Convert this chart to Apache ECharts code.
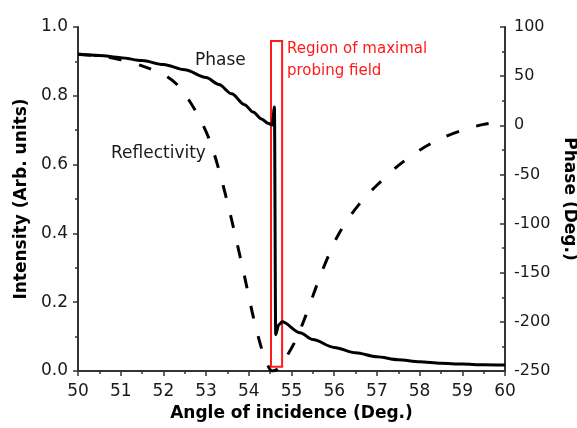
<!DOCTYPE html>
<html>
<head>
<meta charset="utf-8">
<script src="https://cdn.jsdelivr.net/npm/echarts@6/dist/echarts.min.js"></script>
<style>
  html, body { margin: 0; padding: 0; background: #fff; }
  #chart { width: 577px; height: 428px; }
</style>
</head>
<body>
<div id="chart"></div>
<script>
// Reflectivity (left axis, arbitrary units) versus angle of incidence
const reflAngles = [50, 50.5, 51, 51.5, 52, 52.3, 52.6, 52.9, 53.1, 53.3, 53.5, 53.7, 53.9, 54.1, 54.3, 54.45, 54.55, 54.7, 54.9, 55.1, 55.3, 55.5, 55.7, 55.9, 56.1, 56.4, 56.7, 57, 57.5, 58, 58.5, 59, 59.5, 60];
const reflValues = [0.92, 0.916, 0.905, 0.887, 0.862, 0.835, 0.787, 0.722, 0.665, 0.585, 0.49, 0.385, 0.275, 0.16, 0.065, 0.015, 0.0, 0.008, 0.045, 0.09, 0.15, 0.218, 0.285, 0.345, 0.397, 0.455, 0.502, 0.54, 0.597, 0.642, 0.676, 0.70, 0.717, 0.727];

// Phase (right axis, degrees) versus angle of incidence
const phaseAngles = [50, 50.5, 51, 51.5, 52, 52.5, 53, 53.3, 53.6, 53.9, 54.1, 54.3, 54.45, 54.55, 54.6, 54.63, 54.7, 54.78, 55.2, 55.5, 56, 56.5, 57, 57.5, 58, 58.5, 59, 59.5, 60];
const phaseValues = [72.5, 71, 68.8, 65.8, 61.8, 56.5, 48.5, 41.5, 32, 21, 13.5, 6.5, 2, 0.3, 18.6, -213, -203, -200, -211, -218, -226, -231.5, -235.5, -238.5, -240.5, -242, -243, -243.7, -244];

// Highlighted angular window ("Region of maximal probing field")
const regionAngles = [54.52, 54.78];
const regionIntensity = [0.012, 0.959];

// Axis tick settings
const angleTicks = { min: 50, max: 60, step: 1 };
const intensityTicks = { min: 0, max: 1, step: 0.2 };
const phaseTicks = { min: -250, max: 100, step: 50 };

const FONT = 'DejaVu Sans';
const INK = '#1a1a1a';
const AXIS = '#333';
const RED = '#ff1a1a';

const zip = (xs, ys) => xs.map((x, i) => [x, ys[i]]);

const chart = echarts.init(document.getElementById('chart'), null, { renderer: 'canvas' });

chart.setOption({
  animation: false,
  backgroundColor: '#fff',
  grid: { left: 78, right: 72, top: 27, bottom: 57, containLabel: false, outerBoundsMode: 'none' },
  xAxis: {
    type: 'value',
    min: angleTicks.min, max: angleTicks.max, interval: angleTicks.step,
    name: 'Angle of incidence (Deg.)',
    nameLocation: 'middle', nameGap: 34,
    nameTextStyle: { fontFamily: FONT, fontSize: 17, fontWeight: 'bold', color: '#000' },
    axisLine: { show: true, onZero: false, lineStyle: { color: AXIS, width: 2 } },
    axisTick: { show: true, inside: false, length: 5, lineStyle: { color: AXIS, width: 1.5 } },
    minorTick: { show: true, splitNumber: 2, length: 3, lineStyle: { color: AXIS, width: 1.5 } },
    axisLabel: { fontFamily: FONT, fontSize: 17, color: INK, margin: 12, showMinLabel: true, showMaxLabel: true },
    splitLine: { show: false }, minorSplitLine: { show: false }
  },
  yAxis: [
    {
      type: 'value', position: 'left',
      min: intensityTicks.min, max: intensityTicks.max, interval: intensityTicks.step,
      name: 'Intensity (Arb. units)',
      nameLocation: 'middle', nameGap: 48, nameRotate: 90,
      nameTextStyle: { fontFamily: FONT, fontSize: 17, fontWeight: 'bold', color: '#000' },
      axisLine: { show: true, onZero: false, lineStyle: { color: AXIS, width: 2 } },
      axisTick: { show: true, inside: false, length: 5, lineStyle: { color: AXIS, width: 1.5 } },
      minorTick: { show: true, splitNumber: 2, length: 3, lineStyle: { color: AXIS, width: 1.5 } },
      axisLabel: { fontFamily: FONT, fontSize: 17, color: INK, margin: 10, formatter: v => v.toFixed(1), showMinLabel: true, showMaxLabel: true },
      splitLine: { show: false }, minorSplitLine: { show: false }
    },
    {
      type: 'value', position: 'right',
      min: phaseTicks.min, max: phaseTicks.max, interval: phaseTicks.step,
      name: 'Phase (Deg.)',
      nameLocation: 'middle', nameGap: 47, nameRotate: -90,
      nameTextStyle: { fontFamily: FONT, fontSize: 17, fontWeight: 'bold', color: '#000' },
      axisLine: { show: true, onZero: false, lineStyle: { color: AXIS, width: 2 } },
      axisTick: { show: true, inside: true, length: 5, lineStyle: { color: AXIS, width: 1.5 } },
      minorTick: { show: true, splitNumber: 2, length: 3, lineStyle: { color: AXIS, width: 1.5 } },
      axisLabel: { fontFamily: FONT, fontSize: 16, color: INK, margin: 9, showMinLabel: true, showMaxLabel: true },
      splitLine: { show: false }, minorSplitLine: { show: false }
    }
  ],
  series: [
    {
      name: 'Reflectivity',
      type: 'line',
      yAxisIndex: 0,
      data: zip(reflAngles, reflValues),
      smooth: 0.3,
      showSymbol: false,
      lineStyle: { color: '#000', width: 3, type: [13, 18], cap: 'butt' },
      markArea: {
        silent: true,
        itemStyle: { color: 'rgba(0,0,0,0)', borderColor: RED, borderWidth: 2 },
        data: [[
          { coord: [regionAngles[0], regionIntensity[0]] },
          { coord: [regionAngles[1], regionIntensity[1]] }
        ]]
      },
      z: 2
    },
    {
      name: 'Phase',
      type: 'line',
      yAxisIndex: 1,
      data: zip(phaseAngles, phaseValues),
      smooth: 0.3,
      smoothMonotone: 'x',
      showSymbol: false,
      lineStyle: { color: '#000', width: 3, join: 'round' },
      z: 3
    }
  ],
  graphic: [
    { type: 'text', left: 195, top: 52, style: { text: 'Phase', fontFamily: FONT, fontSize: 17, fill: INK } },
    { type: 'text', left: 111, top: 145, style: { text: 'Reflectivity', fontFamily: FONT, fontSize: 17, fill: INK } },
    { type: 'text', left: 287, top: 42, style: { text: 'Region of maximal', fontFamily: FONT, fontSize: 15, fill: RED } },
    { type: 'text', left: 287, top: 64, style: { text: 'probing field', fontFamily: FONT, fontSize: 15, fill: RED } }
  ]
});
</script>
</body>
</html>
